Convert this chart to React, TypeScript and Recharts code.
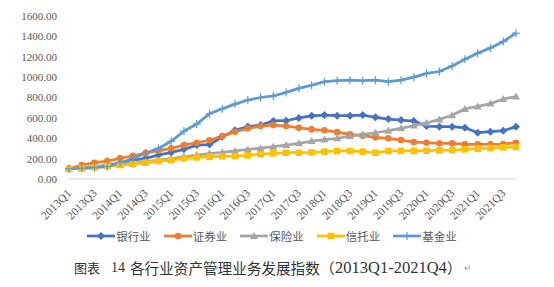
import { LineChart, Line, XAxis, YAxis, Legend } from 'recharts';

const quarters = [
  '2013Q1', '2013Q2', '2013Q3', '2013Q4', '2014Q1', '2014Q2', '2014Q3', '2014Q4',
  '2015Q1', '2015Q2', '2015Q3', '2015Q4', '2016Q1', '2016Q2', '2016Q3', '2016Q4',
  '2017Q1', '2017Q2', '2017Q3', '2017Q4', '2018Q1', '2018Q2', '2018Q3', '2018Q4',
  '2019Q1', '2019Q2', '2019Q3', '2019Q4', '2020Q1', '2020Q2', '2020Q3', '2020Q4',
  '2021Q1', '2021Q2', '2021Q3', '2021Q4',
];

const bank = [
  100, 110, 122, 133, 158, 186, 203, 235, 261, 291,
  333, 338, 415, 478, 515, 530, 570, 572, 600, 620,
  627, 621, 621, 627, 605, 588, 578, 569, 520, 513,
  513, 503, 455, 464, 474, 513,
];
const securities = [
  100, 137, 160, 176, 203, 228, 255, 278, 301, 333,
  356, 380, 421, 464, 497, 520, 529, 520, 503, 487,
  478, 460, 438, 425, 409, 399, 382, 362, 356, 350,
  350, 340, 340, 340, 343, 356,
];
const insurance = [
  100, 108, 118, 128, 140, 155, 170, 185, 200, 218,
  235, 250, 262, 275, 290, 302, 317, 333, 350, 372,
  387, 399, 421, 438, 454, 474, 497, 525, 550, 585,
  625, 688, 712, 740, 785, 810,
];
const trust = [
  100, 105, 115, 127, 137, 147, 160, 176, 186, 203,
  212, 219, 222, 225, 232, 245, 252, 258, 258, 261,
  268, 275, 275, 268, 258, 275, 275, 275, 278, 282,
  284, 291, 297, 304, 311, 315,
];
const fund = [
  100, 105, 112, 122, 160, 200, 255, 300, 370, 470,
  540, 640, 690, 735, 775, 800, 815, 850, 890, 920,
  955, 965, 970, 965, 970, 955, 970, 1000, 1036, 1055,
  1110, 1175, 1235, 1287, 1350, 1432,
];

const yTicks = [0, 200, 400, 600, 800, 1000, 1200, 1400, 1600];

const seriesNames = ['银行业', '证券业', '保险业', '信托业', '基金业'];
const seriesKeys = ['bank', 'securities', 'insurance', 'trust', 'fund'];
const seriesColors = ['#4472C4', '#ED7D31', '#A5A5A5', '#FFC000', '#5B9BD5'];
const seriesShapes = ['diamond', 'circle', 'triangle', 'square', 'plus'];

const data = quarters.map((q, i) => ({
  q,
  bank: bank[i],
  securities: securities[i],
  insurance: insurance[i],
  trust: trust[i],
  fund: fund[i],
}));

const SERIF = '"Liberation Serif", "Times New Roman", serif';
const CJK = '"Noto Sans CJK SC", sans-serif';

function Marker({ shape, cx, cy, color }: { shape: string; cx: number; cy: number; color: string }) {
  if (cx == null || cy == null) return null;
  switch (shape) {
    case 'diamond':
      return <polygon points={`${cx},${cy - 4} ${cx + 4},${cy} ${cx},${cy + 4} ${cx - 4},${cy}`} fill={color} />;
    case 'circle':
      return <circle cx={cx} cy={cy} r={3.3} fill={color} />;
    case 'triangle':
      return <polygon points={`${cx},${cy - 4} ${cx + 4},${cy + 3} ${cx - 4},${cy + 3}`} fill={color} />;
    case 'square':
      return <rect x={cx - 3.3} y={cy - 3.3} width={6.6} height={6.6} fill={color} />;
    default:
      return (
        <g stroke={color} strokeWidth={1.2}>
          <line x1={cx} y1={cy - 4} x2={cx} y2={cy + 4} />
          <line x1={cx - 4} y1={cy} x2={cx + 4} y2={cy} />
        </g>
      );
  }
}

const RotTick = (props: any) => {
  const { x, y, payload } = props;
  return (
    <text
      x={x + 3}
      y={y + 13}
      transform={`rotate(-45, ${x + 3}, ${y + 13})`}
      textAnchor="end"
      fontFamily={SERIF}
      fontSize={11.5}
      fill="#595959"
    >
      {payload.value}
    </text>
  );
};

const renderLegend = () => (
  <div style={{ display: 'flex', justifyContent: 'center', marginLeft: -10 }}>
    {seriesNames.map((name, i) => (
      <div key={name} style={{ display: 'flex', alignItems: 'center', marginRight: i < 4 ? 13 : 0 }}>
        <svg width={28} height={12}>
          <line x1={0} y1={6} x2={28} y2={6} stroke={seriesColors[i]} strokeWidth={2.75} />
          <Marker shape={seriesShapes[i]} cx={14} cy={6} color={seriesColors[i]} />
        </svg>
        <span style={{ fontFamily: CJK, fontSize: 11.5, color: '#595959', marginLeft: 1 }}>{name}</span>
      </div>
    ))}
  </div>
);

const capStyle = { position: 'absolute' as const, top: 258, lineHeight: '20px', color: '#333', whiteSpace: 'nowrap' as const };

export default function App() {
  return (
    <div style={{ position: 'relative', width: 554, height: 287, background: '#fff' }}>
      <style>{'body{margin:0}'}</style>
      <LineChart width={554} height={250} data={data} margin={{ top: 16, right: 38, left: 0, bottom: 2 }}>
        <XAxis
          dataKey="q"
          interval={1}
          tick={<RotTick />}
          tickLine={false}
          tickSize={0}
          axisLine={{ stroke: '#d9d9d9', strokeWidth: 1 }}
          height={49}
        />
        <YAxis
          domain={[0, 1600]}
          ticks={yTicks}
          width={69}
          axisLine={false}
          tickLine={false}
          tickSize={0}
          tickMargin={12}
          tickFormatter={(v: number) => v.toFixed(2)}
          tick={{ fontFamily: SERIF, fontSize: 11, fill: '#595959' }}
        />
        <Legend verticalAlign="bottom" height={20} content={renderLegend} wrapperStyle={{ left: 0, width: 554 }} />
        {seriesKeys.map((k, i) => (
          <Line
            key={k}
            type="linear"
            dataKey={k}
            name={seriesNames[i]}
            stroke={seriesColors[i]}
            strokeWidth={2.75}
            isAnimationActive={false}
            dot={(p: any) => (
              <Marker key={`${k}-${p.index}`} shape={seriesShapes[i]} cx={p.cx} cy={p.cy} color={seriesColors[i]} />
            )}
            activeDot={false}
          />
        ))}
      </LineChart>
      <span style={{ ...capStyle, left: 74, fontFamily: CJK, fontSize: 13 }}>图表</span>
      <span style={{ ...capStyle, left: 111, fontFamily: SERIF, fontSize: 14 }}>14</span>
      <span style={{ ...capStyle, left: 130, fontFamily: CJK, fontSize: 14.6 }}>各行业资产管理业务发展指数</span>
      <span style={{ ...capStyle, left: 320, fontFamily: CJK, fontSize: 14.6 }}>（</span>
      <span style={{ ...capStyle, left: 335, fontFamily: SERIF, fontSize: 16.5 }}>2013Q1-2021Q4</span>
      <span style={{ ...capStyle, left: 447, fontFamily: CJK, fontSize: 14.6 }}>）</span>
      <span style={{ ...capStyle, left: 464, fontFamily: CJK, fontSize: 9, color: '#999' }}>↵</span>
    </div>
  );
}
